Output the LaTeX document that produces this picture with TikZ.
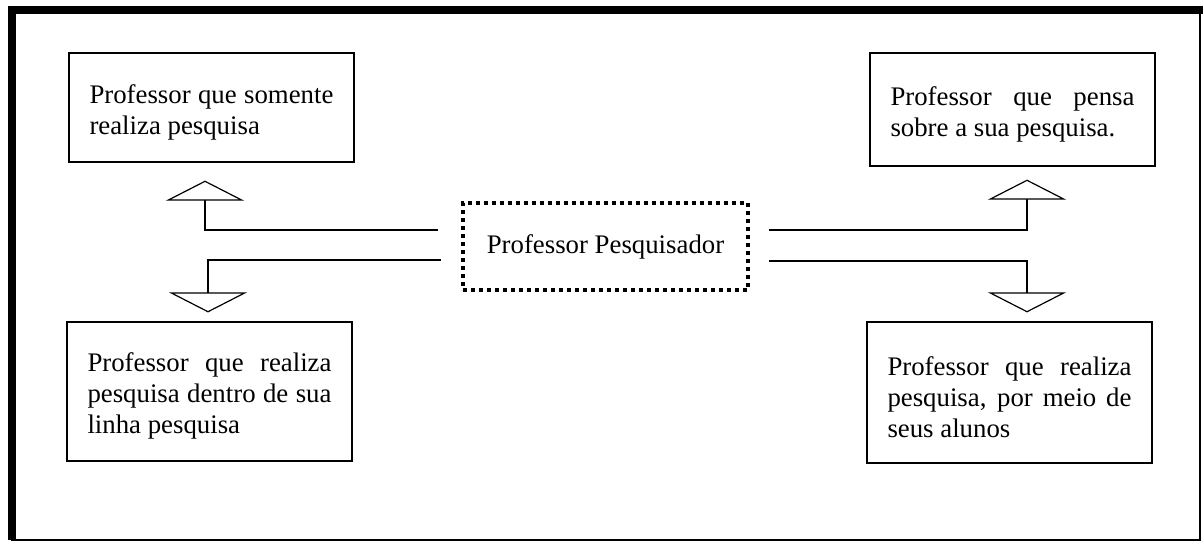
\documentclass[tikz,border=0pt]{standalone}
\usepackage{fontspec}
\setmainfont{Liberation Serif}
\usetikzlibrary{arrows.meta}
\hyphenpenalty=10000
\exhyphenpenalty=10000
\tolerance=10000

\tikzset{
  profbox/.style={draw, line width=0.6pt, text width=122pt, inner xsep=10.25pt,
    align=justify, minimum width=142.5pt,
    font=\fontsize{13.4pt}{15.4pt}\selectfont,
    execute at begin node={\rule{0pt}{14pt}}},
  centerbox/.style={draw, line width=2pt, dash pattern=on 2pt off 2pt,
    minimum width=142.5pt, minimum height=43.5pt,
    font=\fontsize{13.4pt}{15.4pt}\selectfont},
  link/.style={line width=0.6pt, line join=miter,
    -{Triangle[open, fill=white, length=10pt, width=39pt]}}
}

\begin{document}
\begin{tikzpicture}[x=0.5pt,y=-0.5pt]

        \useasboundingbox (0,0) rectangle (1203,542);

        % Outer frame (heavy on the left and top)
        \draw[line width=1pt] (12,10) rectangle (1199.5,539.5);
        \draw[line width=4pt, line join=miter] (12,539.5) -- (12,10) -- (1203,10);

        % Central node
        \node[centerbox] (pp) at (605.5,246.5) {Professor Pesquisador};

        % The four kinds of professor
        \node[profbox, minimum height=54.5pt] (tl) at (211.5,107.5)
            {Professor que somente realiza pesquisa};
        \node[profbox, minimum height=56.5pt] (tr) at (1012.5,109.5)
            {Professor que pensa sobre a sua pesquisa.};
        \node[profbox, minimum height=69.5pt] (bl) at (209.5,391.5)
            {Professor que realiza pesquisa dentro de sua linha pesquisa};
        \node[profbox, minimum height=70.5pt] (br) at (1009.5,392.5)
            {Professor que realiza pesquisa, por meio de seus alunos};

        % Connectors with open triangle heads
        \draw[link, shorten >=9pt] ([shift={(-11.5pt,8.25pt)}]pp.west) -| ([xshift=-3.25pt]tl.south);
        \draw[link, shorten >=4.5pt] ([shift={(-10pt,-6.75pt)}]pp.west) -| ([xshift=-0.75pt]bl.north);
        \draw[link, shorten >=6.5pt] ([shift={(9.5pt,8.25pt)}]pp.east) -| ([xshift=7.25pt]tr.south);
        \draw[link, shorten >=4.5pt] ([shift={(9.5pt,-7.25pt)}]pp.east) -| ([xshift=8.75pt]br.north);

\end{tikzpicture}
\end{document}
